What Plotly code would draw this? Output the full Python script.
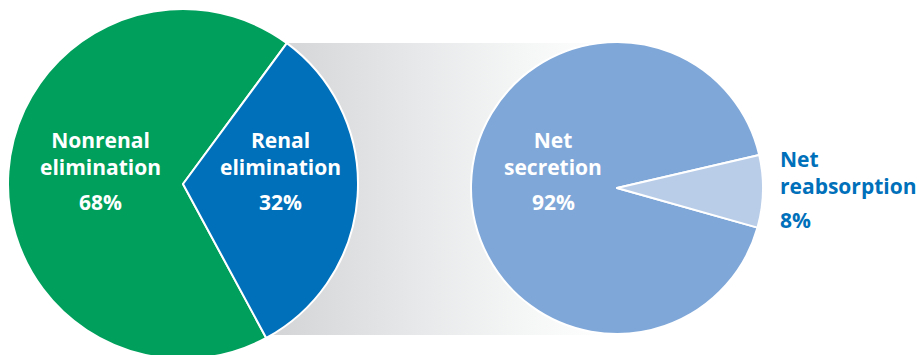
import plotly.graph_objects as go

# ---- data ----
left_labels = ["Nonrenal elimination", "Renal elimination"]
left_values = [68, 32]
left_colors = ["#00a05c", "#0070ba"]

right_labels = ["Net secretion", "Net reabsorption"]
right_values = [92, 8]
right_colors = ["#7fa7d8", "#b9cde9"]

W, H = 918, 368  # H slightly taller than the window so the left pie is cut at the bottom

fig = go.Figure()

# gradient band connecting the two pies (behind them)
band_x = [270, 610, 610, 270, 270]
band_y = [43, 43, 335, 335, 43]
fig.add_trace(go.Scatter(
    x=band_x, y=band_y, mode="lines", fill="toself",
    line=dict(width=0, color="rgba(0,0,0,0)"),
    fillgradient=dict(type="horizontal",
                      colorscale=[[0, "#d3d4d6"], [0.45, "#e8e9ea"],
                                  [0.75, "#f5f6f6"], [1, "#ffffff"]]),
    hoverinfo="skip", showlegend=False))

# left pie: center (183,184), r 175
fig.add_trace(go.Pie(
    labels=left_labels, values=left_values, sort=False, direction="clockwise",
    rotation=151.6, marker=dict(colors=left_colors, line=dict(color="white", width=2)),
    textinfo="none", hoverinfo="skip", showlegend=False,
    domain=dict(x=[8 / W, 358 / W], y=[0, 1])))

# right pie: center (617,188), r 146
fig.add_trace(go.Pie(
    labels=right_labels, values=right_values, sort=False, direction="clockwise",
    rotation=105.75, marker=dict(colors=right_colors, line=dict(color="white", width=2)),
    textinfo="none", hoverinfo="skip", showlegend=False,
    domain=dict(x=[471 / W, 763 / W], y=[(H - 334) / H, (H - 42) / H])))

FONT = "Open Sans"
SIZE = 21
ann = []

def add_text(text, x, y, color, xanchor="center", align="center"):
    ann.append(dict(text=text, x=x, y=y, xref="x", yref="y", showarrow=False,
                    xanchor=xanchor, yanchor="middle", align=align,
                    font=dict(family=FONT, size=SIZE, color=color, weight="bold")))

def label_block(label, value, x, y_name, y_pct, color, xanchor="center", align="center"):
    add_text(label.replace(" ", "<br>"), x, y_name, color, xanchor, align)
    add_text(f"{value}%", x, y_pct, color, xanchor, align)

label_block(left_labels[0], left_values[0], 100, 153, 202, "white")
label_block(left_labels[1], left_values[1], 280, 153, 202, "white")
label_block(right_labels[0], right_values[0], 553, 153, 202, "white")
label_block(right_labels[1], right_values[1], 778, 172, 220, "#0070ba", xanchor="left", align="left")

fig.update_layout(
    width=W, height=H, margin=dict(l=0, r=0, t=0, b=0),
    paper_bgcolor="white", plot_bgcolor="white",
    xaxis=dict(range=[0, W], visible=False, fixedrange=True),
    yaxis=dict(range=[H, 0], visible=False, fixedrange=True),
    annotations=ann, showlegend=False)

fig.write_html("out.html", config=dict(displayModeBar=False),
               post_script="document.documentElement.style.overflow='hidden';document.body.style.overflow='hidden';")
